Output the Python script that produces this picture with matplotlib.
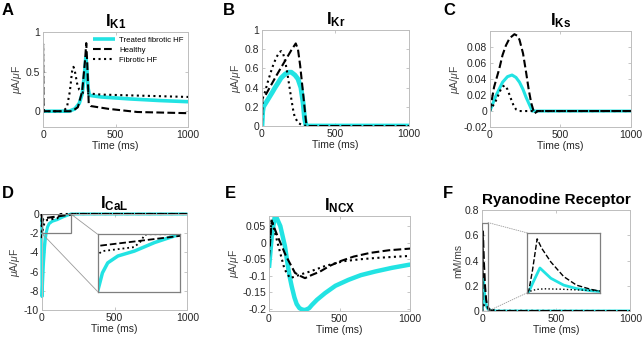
import matplotlib
matplotlib.use("Agg")
import matplotlib.pyplot as plt
from matplotlib.patches import Rectangle, ConnectionPatch
from matplotlib.ticker import FuncFormatter

plt.rcParams["font.family"] = ["Liberation Sans", "DejaVu Sans"]
plt.rcParams["mathtext.fontset"] = "custom"
plt.rcParams["mathtext.rm"] = "Liberation Sans"
plt.rcParams["mathtext.it"] = "Liberation Sans:italic"
plt.rcParams["mathtext.bf"] = "Liberation Sans:bold"

# ---- data (time in ms) ----
# I_K1
k1_t_healthy = [0, 0.5, 3, 6, 200, 240, 270, 290, 298, 305, 315, 330, 450, 650, 1000]
k1_v_healthy = [0, 0.85, 0.1, 0, 0, 0.05, 0.25, 0.65, 0.86, 0.6, 0.1, 0.065, 0.03, -0.01, -0.025]
k1_t_fib = [0, 140, 165, 185, 200, 210, 220, 235, 250, 280, 400, 600, 1000]
k1_v_fib = [0, 0, 0.05, 0.25, 0.5, 0.56, 0.5, 0.35, 0.27, 0.23, 0.21, 0.2, 0.18]
k1_t_treat = [0, 180, 220, 250, 270, 285, 295, 300, 310, 320, 400, 600, 800, 1000]
k1_v_treat = [0, 0, 0.03, 0.1, 0.22, 0.45, 0.68, 0.6, 0.3, 0.2, 0.18, 0.155, 0.135, 0.12]

# I_Kr
kr_t_healthy = [0, 3, 20, 60, 100, 150, 200, 230, 245, 260, 280, 300, 315, 1000]
kr_v_healthy = [0, 0.3, 0.31, 0.42, 0.53, 0.66, 0.79, 0.86, 0.8, 0.63, 0.34, 0.04, 0, 0]
kr_t_fib = [0, 3, 20, 40, 60, 80, 100, 120, 131, 145, 160, 176, 190, 200, 212, 222, 245, 270, 290, 320, 1000]
kr_v_fib = [0, 0.28, 0.35, 0.46, 0.56, 0.65, 0.72, 0.77, 0.78, 0.75, 0.66, 0.52, 0.38, 0.28, 0.17, 0.1, 0.035, 0.012, 0.005, 0, 0]
kr_t_treat = [0, 5, 10, 30, 50, 70, 89, 110, 130, 157, 180, 200, 225, 245, 265, 280, 290, 300, 1000]
kr_v_treat = [0, 0.15, 0.2, 0.25, 0.3, 0.35, 0.4, 0.45, 0.5, 0.54, 0.56, 0.56, 0.53, 0.49, 0.4, 0.24, 0.08, 0, 0]

# I_Ks
ks_t_healthy = [0, 30, 67, 90, 114, 140, 174, 195, 210, 235, 257, 275, 293, 315, 340, 1000]
ks_v_healthy = [0, 0.03, 0.053, 0.07, 0.082, 0.091, 0.096, 0.094, 0.089, 0.072, 0.048, 0.027, 0.01, -0.003, 0, 0]
ks_t_fib = [0, 43, 80, 95, 107, 125, 150, 170, 186, 210, 1000]
ks_v_fib = [0, 0.013, 0.028, 0.031, 0.032, 0.027, 0.015, 0.006, 0.002, 0, 0]
ks_t_treat = [0, 43, 90, 125, 157, 185, 210, 235, 257, 280, 300, 1000]
ks_v_treat = [0, 0.019, 0.036, 0.043, 0.045, 0.042, 0.036, 0.027, 0.017, 0.008, 0, 0]

# I_CaL
cal_t_healthy = [0, 1, 4, 10, 20, 30, 113, 200, 230, 1000]
cal_v_healthy = [0, -1.2, -0.8, -0.55, -0.45, -0.41, -0.24, -0.06, 0, 0]
cal_t_fib = [0, 1, 4, 10, 20, 30, 40, 106, 120, 127, 135, 1000]
cal_v_fib = [0, -2.6, -1.9, -1.3, -0.9, -0.71, -0.59, -0.45, -0.24, -0.02, 0, 0]
cal_t_treat = [0, 2, 6, 12, 20, 25, 30, 40, 51, 72, 106, 148, 200, 1000]
cal_v_treat = [-0.4, -8.6, -7.2, -5.2, -3.4, -2.6, -2.0, -1.35, -1.0, -0.76, -0.59, -0.29, 0, 0]

# I_NCX
ncx_t_healthy = [0, 19, 60, 120, 184, 220, 255, 300, 362, 430, 504, 600, 716, 850, 1000]
ncx_v_healthy = [-0.045, 0.065, 0.02, -0.04, -0.091, -0.1, -0.107, -0.098, -0.087, -0.07, -0.056, -0.042, -0.031, -0.023, -0.018]
ncx_t_fib = [0, 19, 60, 110, 149, 184, 230, 291, 400, 527, 650, 764, 880, 1000]
ncx_v_fib = [-0.02, 0.07, 0.0, -0.08, -0.107, -0.102, -0.095, -0.087, -0.07, -0.056, -0.05, -0.046, -0.043, -0.04]
ncx_t_treat = [0, 20, 43, 80, 113, 130, 145, 161, 180, 196, 215, 232, 250, 267, 285, 303, 340, 397, 470, 563, 650, 752, 870, 1000]
ncx_v_treat = [-0.076, 0.02, 0.085, 0.05, -0.011, -0.06, -0.1, -0.132, -0.165, -0.185, -0.197, -0.201, -0.203, -0.201, -0.197, -0.188, -0.172, -0.152, -0.13, -0.112, -0.098, -0.087, -0.076, -0.066]

# Ryanodine receptor
ryr_t_healthy = [0, 1, 3, 5.5, 8, 13, 20, 27, 35, 40, 60, 100, 1000]
ryr_v_healthy = [0, 0.03, 0.27, 0.63, 0.52, 0.36, 0.19, 0.09, 0.04, 0.02, 0.005, 0, 0]
ryr_t_fib = [0, 1, 5, 9.5, 18, 27, 40, 60, 100, 1000]
ryr_v_fib = [0, 0.015, 0.04, 0.047, 0.043, 0.035, 0.024, 0.01, 0.002, 0]
ryr_t_treat = [0, 1, 3, 7, 10, 13, 20, 27, 35, 40, 60, 100, 1000]
ryr_v_treat = [0, 0.015, 0.11, 0.29, 0.23, 0.17, 0.09, 0.05, 0.024, 0.015, 0.004, 0, 0]

CYAN = "#22e3e3"
SPINE = "#bdbdbd"
fmt = FuncFormatter(lambda v, p: f"{v:g}")

fig = plt.figure(figsize=(6.42, 3.37), dpi=100)


def make_axes(rect, ylim, yticks, title, ylabel):
    ax = fig.add_axes(rect)
    ax.set_xlim(0, 1000)
    ax.set_ylim(*ylim)
    ax.set_xticks([0, 500, 1000])
    ax.set_yticks(yticks)
    ax.xaxis.set_major_formatter(fmt)
    ax.yaxis.set_major_formatter(fmt)
    ax.tick_params(direction="in", length=2.5, width=0.6, color=SPINE, labelsize=7.5,
                   labelcolor="#262626", top=True, right=True, pad=2)
    for s in ax.spines.values():
        s.set_color(SPINE)
        s.set_linewidth(0.7)
    ax.set_title(title, fontsize=12, fontweight="bold", pad=4)
    ax.set_xlabel("Time (ms)", fontsize=7.5, labelpad=1, color="#262626")
    ax.set_ylabel(ylabel, fontsize=7.5, labelpad=1, color="#404040")
    return ax


def draw(ax, th, vh, tf, vf, tt, vt, lw_t=3.0, lw=1.5):
    ax.plot(tt, vt, color=CYAN, lw=lw_t, label="Treated fibrotic HF", solid_capstyle="butt")
    ax.plot(th, vh, color="black", ls="--", lw=lw, label="Healthy")
    ax.plot(tf, vf, color="black", ls=":", lw=lw, label="Fibrotic HF")


ua = r"$\mu$A/$\mu$F"

axA = make_axes([0.067, 0.623, 0.226, 0.282], (-0.2, 1), [0, 0.5, 1], r"$\mathbf{I}_{\mathbf{K1}}$", ua)
draw(axA, k1_t_healthy, k1_v_healthy, k1_t_fib, k1_v_fib, k1_t_treat, k1_v_treat, lw_t=2.6)
axA.legend(loc="upper right", frameon=False, fontsize=5.6, handlelength=2.8,
           borderaxespad=0.2, labelspacing=0.3, handletextpad=0.5)

axB = make_axes([0.408, 0.626, 0.229, 0.285], (0, 1), [0, 0.2, 0.4, 0.6, 0.8, 1], r"$\mathbf{I}_{\mathbf{Kr}}$", ua)
draw(axB, kr_t_healthy, kr_v_healthy, kr_t_fib, kr_v_fib, kr_t_treat, kr_v_treat, lw_t=3.5)

axC = make_axes([0.763, 0.623, 0.220, 0.285], (-0.02, 0.1), [-0.02, 0, 0.02, 0.04, 0.06, 0.08], r"$\mathbf{I}_{\mathbf{Ks}}$", ua)
draw(axC, ks_t_healthy, ks_v_healthy, ks_t_fib, ks_v_fib, ks_t_treat, ks_v_treat, lw_t=2.2)

axD = make_axes([0.065, 0.080, 0.227, 0.285], (-10, 0), [-10, -8, -6, -4, -2, 0], r"$\mathbf{I}_{\mathbf{CaL}}$", ua)
draw(axD, cal_t_healthy, cal_v_healthy, cal_t_fib, cal_v_fib, cal_t_treat, cal_v_treat, lw_t=2.2)
for ln in axD.lines:
    ln.set_clip_on(False)
axD.add_patch(Rectangle((0, -2), 200, 2, fill=False, edgecolor="#7f7f7f", lw=0.9, zorder=5))
insD = fig.add_axes([0.152, 0.135, 0.128, 0.170])
draw(insD, cal_t_healthy, cal_v_healthy, cal_t_fib, cal_v_fib, cal_t_treat, cal_v_treat, lw_t=2.5, lw=1.3)
insD.set_xlim(30, 200)
insD.set_ylim(-2, 0)
insD.set_xticks([])
insD.set_yticks([])
for s in insD.spines.values():
    s.set_color("#7f7f7f")
    s.set_linewidth(0.9)
for xyA, xyB in [((200, 0), (0, 1)), ((0, -2), (0, 0))]:
    con = ConnectionPatch(xyA=xyA, coordsA=axD.transData, xyB=xyB, coordsB=insD.transAxes,
                          color="#9a9a9a", lw=0.6)
    fig.add_artist(con)

axE = make_axes([0.419, 0.077, 0.220, 0.282], (-0.206, 0.08), [-0.2, -0.15, -0.1, -0.05, 0, 0.05], r"$\mathbf{I}_{\mathbf{NCX}}$", ua)
draw(axE, ncx_t_healthy, ncx_v_healthy, ncx_t_fib, ncx_v_fib, ncx_t_treat, ncx_v_treat, lw_t=3.2)

axF = make_axes([0.751, 0.077, 0.231, 0.300], (0, 0.8), [0, 0.2, 0.4, 0.6, 0.8], "Ryanodine Receptor", "mM/ms")
axF.title.set_fontsize(11)
draw(axF, ryr_t_healthy, ryr_v_healthy, ryr_t_fib, ryr_v_fib, ryr_t_treat, ryr_v_treat, lw_t=2.2)
axF.add_patch(Rectangle((0, 0), 40, 0.7, fill=False, edgecolor="#7f7f7f", lw=0.9, zorder=5))
insF = fig.add_axes([0.821, 0.131, 0.114, 0.178])
draw(insF, ryr_t_healthy, ryr_v_healthy, ryr_t_fib, ryr_v_fib, ryr_t_treat, ryr_v_treat, lw_t=2.0, lw=1.0)
insF.set_xlim(0, 40)
insF.set_ylim(0, 0.7)
insF.set_xticks([])
insF.set_yticks([])
for s in insF.spines.values():
    s.set_color("#7f7f7f")
    s.set_linewidth(0.9)
for xyA, xyB in [((40, 0.7), (0, 1)), ((40, 0), (0, 0))]:
    con = ConnectionPatch(xyA=xyA, coordsA=axF.transData, xyB=xyB, coordsB=insF.transAxes,
                          color="#9a9a9a", lw=0.6, ls=":")
    fig.add_artist(con)

# panel letters
for letter, x, y in [("A", 2, 15), ("B", 223, 15), ("C", 443, 15),
                     ("D", 2, 198), ("E", 225, 198), ("F", 443, 198)]:
    fig.text(x / 642, 1 - y / 337, letter, fontsize=12, fontweight="bold", va="baseline", ha="left")

fig.savefig("out.png", dpi=100)
